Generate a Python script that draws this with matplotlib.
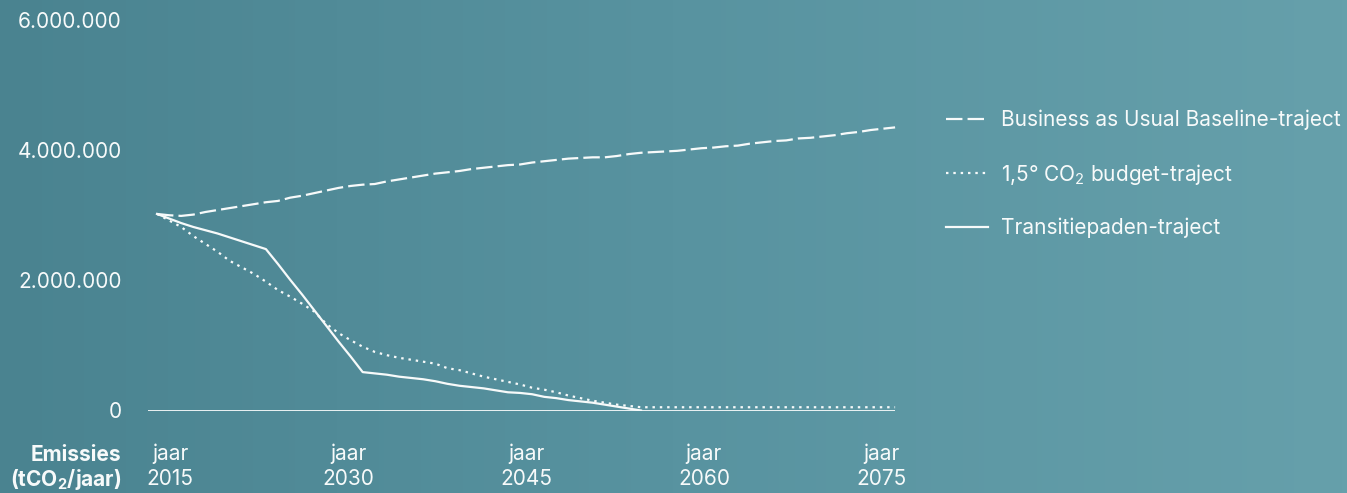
import matplotlib
matplotlib.use("Agg")
import matplotlib.pyplot as plt
import numpy as np
from matplotlib.colors import LinearSegmentedColormap

plt.rcParams["font.family"] = ["Inter", "DejaVu Sans"]
plt.rcParams["mathtext.fontset"] = "custom"
plt.rcParams["mathtext.rm"] = "Inter"
plt.rcParams["mathtext.bf"] = "Inter:bold"

# Emissions per year (tCO2/jaar)
years = np.arange(2015, 2077)

bau = [
    3.02, 3.00, 2.99, 3.01, 3.05, 3.08, 3.11, 3.14, 3.17, 3.20,
    3.22, 3.27, 3.30, 3.34, 3.38, 3.42, 3.45, 3.47, 3.48, 3.52,
    3.55, 3.58, 3.61, 3.64, 3.66, 3.68, 3.71, 3.73, 3.75, 3.77,
    3.78, 3.81, 3.83, 3.85, 3.87, 3.88, 3.89, 3.89, 3.91, 3.94,
    3.96, 3.97, 3.98, 3.99, 4.01, 4.03, 4.04, 4.06, 4.07, 4.10,
    4.12, 4.14, 4.15, 4.18, 4.19, 4.21, 4.23, 4.26, 4.28, 4.31,
    4.33, 4.35,
]

budget = [
    3.02, 2.92, 2.82, 2.68, 2.56, 2.44, 2.30, 2.20, 2.10, 1.98,
    1.85, 1.75, 1.64, 1.52, 1.33, 1.19, 1.08, 0.98, 0.90, 0.85,
    0.81, 0.78, 0.75, 0.72, 0.65, 0.62, 0.57, 0.52, 0.48, 0.44,
    0.40, 0.35, 0.32, 0.28, 0.23, 0.19, 0.15, 0.12, 0.09, 0.07,
    0.05, 0.05, 0.05, 0.05, 0.05, 0.05, 0.05, 0.05, 0.05, 0.05,
    0.05, 0.05, 0.05, 0.05, 0.05, 0.05, 0.05, 0.05, 0.05, 0.05,
    0.05, 0.05,
]

transitie = [
    3.02, 2.95, 2.88, 2.82, 2.77, 2.72, 2.66, 2.60, 2.54, 2.48,
    2.25, 2.01, 1.78, 1.54, 1.30, 1.06, 0.83, 0.59, 0.57, 0.55,
    0.52, 0.50, 0.48, 0.45, 0.41, 0.38, 0.36, 0.34, 0.31, 0.28,
    0.27, 0.25, 0.21, 0.19, 0.16, 0.14, 0.12, 0.09, 0.06, 0.03,
    0.00,
]

y_ticks = [0, 2_000_000, 4_000_000, 6_000_000]
tick_years = [2015, 2030, 2045, 2060, 2075]
labels = [
    "Business as Usual Baseline-traject",
    r"1,5° CO$_2$ budget-traject",
    "Transitiepaden-traject",
]

W, H = 1347, 493
WHITE = "#f7fafa"
FS = 15

fig = plt.figure(figsize=(W / 100, H / 100), dpi=100)

# horizontal teal gradient behind everything
bg = fig.add_axes([0, 0, 1, 1], zorder=-10)
cmap = LinearSegmentedColormap.from_list("bg", ["#4a8390", "#5893a0", "#66a0ab"])
bg.imshow(np.linspace(0, 1, 256)[None, :], aspect="auto", cmap=cmap,
          extent=[0, 1, 0, 1])
bg.set_axis_off()

# plot area in pixels: x 148..902, y 20 (top) .. 410.5 (zero)
left, right, top, zero = 148, 902, 20, 410.5
ax = fig.add_axes([left / W, (H - zero) / H, (right - left) / W, (zero - top) / H])
ax.patch.set_alpha(0)
px_per_year = 12.1
ax.set_xlim(2015 - 9 / px_per_year, 2015 + (right - 157) / px_per_year)
ax.set_ylim(0, 6_000_000)

M = 1_000_000
ax.hlines(0, ax.get_xlim()[0], years[-1], color=WHITE, lw=1.3, zorder=1)
ax.plot(years, np.array(bau) * M, color=WHITE, lw=1.6,
        linestyle=(0, (7.4, 2.3)), dash_capstyle="butt",
        label=labels[0], zorder=3)
ax.plot(years, np.array(budget) * M, color=WHITE, lw=1.6,
        linestyle=(0, (1.1, 2.2)), dash_capstyle="butt",
        label=labels[1], zorder=3)
ax.plot(years[:len(transitie)], np.array(transitie) * M, color=WHITE, lw=1.6,
        label=labels[2], zorder=3)

for s in ax.spines.values():
    s.set_visible(False)

ax.set_yticks(y_ticks)
ax.set_yticklabels([f"{v:,.0f}".replace(",", ".") for v in y_ticks])
ax.tick_params(axis="y", length=0, pad=19, labelsize=FS, labelcolor=WHITE)

# year labels sit a little right of the data years
label_pos = np.linspace(tick_years[0] + 1.1, tick_years[-1] - 0.1, len(tick_years))
ax.set_xticks(label_pos)
ax.set_xticklabels([f"jaar\n{y}" for y in tick_years], linespacing=1.3)
ax.tick_params(axis="x", length=0, pad=24, labelsize=FS, labelcolor=WHITE)

fig.text(121 / W, 1 - 455 / H, "Emissies", ha="right", va="center",
         fontsize=FS, fontweight="bold", color=WHITE)
fig.text(121 / W, 1 - 480 / H, r"(tCO$_\mathbf{2}$/jaar)", ha="right", va="center",
         fontsize=FS, fontweight="bold", color=WHITE)

leg = ax.legend(loc="upper left", bbox_to_anchor=(946 / W, 1 - 110 / H),
                bbox_transform=fig.transFigure, frameon=False, fontsize=FS,
                handlelength=2.0, handletextpad=0.62, labelspacing=1.5,
                borderpad=0, borderaxespad=0)
for t in leg.get_texts():
    t.set_color(WHITE)

fig.savefig("out.png", dpi=100)
